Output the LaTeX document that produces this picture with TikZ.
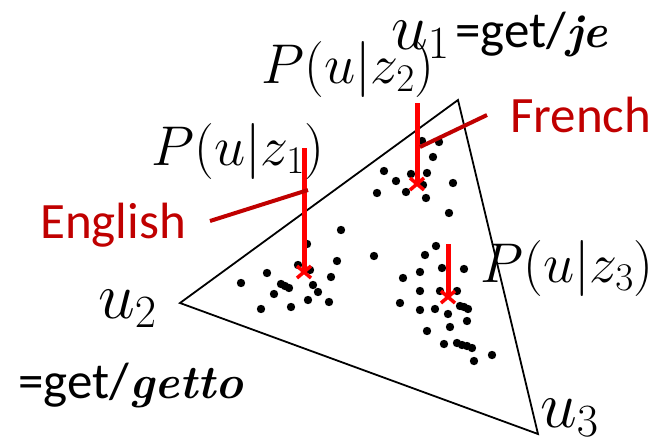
\RequirePackage{fix-cm}
\documentclass[tikz,border=0pt]{standalone}
\usepackage[no-math]{fontspec}
\usetikzlibrary{calc}
\newfontfamily\calib{Carlito}
\definecolor{darkred}{HTML}{C00000}
\definecolor{brightred}{HTML}{FF0000}
\newcommand{\bitword}[1]{{\fontsize{47}{60}\selectfont\rmfamily\bfseries\itshape #1}}
\begin{document}
\begin{tikzpicture}[x=1pt,y=-1pt,
  tri/.style={draw=black, line width=1.8pt, line join=miter},
  pz/.style={draw=brightred, line width=5pt},
  xmark/.style={draw=brightred, line width=3.5pt},
  ptr/.style={draw=darkred, line width=4pt},
  txt/.style={inner sep=0pt, anchor=base west, font=\fontsize{51}{60}\selectfont\calib},
  mlbl/.style={inner sep=0pt, anchor=base, font=\fontsize{56}{60}\selectfont},
  ulbl/.style={inner sep=0pt, anchor=base west, font=\fontsize{66}{70}\selectfont},
  dotc/.style={fill=black}
]
\useasboundingbox (0,0) rectangle (657,440);
% triangle
\coordinate (t1) at (458,100);
\coordinate (t2) at (180,303);
\coordinate (t3) at (538,434);
\draw[tri] (t1) -- (t2) -- (t3) -- cycle;
% dots
\foreach \x/\y in {341/230,307/244,337/261,298/265,310/270,267/273,331/277,241/283,
  281/284,285/286,289/288,313/285,318/292,274/294,329/302,308/300,261/309,291/307,
  439/142,433/157,422/141,384/171,411/174,427/173,396/181,423/185,453/183,377/193,406/192,426/198,449/213,
  374/256,436/246,425/255,420/272,403/278,442/268,464/269,420/291,440/291,457/291,
  400/303,420/310,435/309,448/314,460/306,464/307,468/309,467/321,427/331,450/327,444/344,
  457/343,462/345,467/346,472/348,492/355,474/361}
  \fill[dotc] (\x,\y) circle (4.2pt);
% red distribution lines
\coordinate (a1) at (304,148); \coordinate (b1) at (304,272);
\coordinate (a2) at (417,103); \coordinate (b2) at (417,184);
\coordinate (a3) at (448,244); \coordinate (b3) at (448,297);
\foreach \i in {1,2,3}{
  \draw[pz] (a\i) -- (b\i);
  \draw[xmark] ($(b\i)+(-7,-6)$) -- ($(b\i)+(7,6)$);
  \draw[xmark] ($(b\i)+(-7,6)$) -- ($(b\i)+(7,-6)$);
}
% pointer lines
\coordinate (e1) at (210,221); \coordinate (e2) at (308,190);
\coordinate (f1) at (420,147); \coordinate (f2) at (487,115);
\draw[ptr] (e1) -- (e2);
\draw[ptr] (f1) -- (f2);
% labels
\node[mlbl] (pz1) at (238,165) {$P(u|z_1)$};
\node[mlbl] (pz2) at (348,83) {$P(u|z_2)$};
\node[mlbl] (pz3) at (567,282) {$P(u|z_3)$};
\node[ulbl] (u1) at (391,49) {$u_1$};
\node[txt] (g1) at (455,47) {=get/\bitword{je}};
\node[ulbl] (u2) at (98,318) {$u_2$};
\node[txt] (g2) at (18,398) {=get/\bitword{getto}};
\node[ulbl] (u3) at (540,427) {$u_3$};
\node[txt, text=darkred] (fr) at (510,132) {French};
\node[txt, text=darkred] (en) at (40,238) {English};
\end{tikzpicture}
\end{document}
